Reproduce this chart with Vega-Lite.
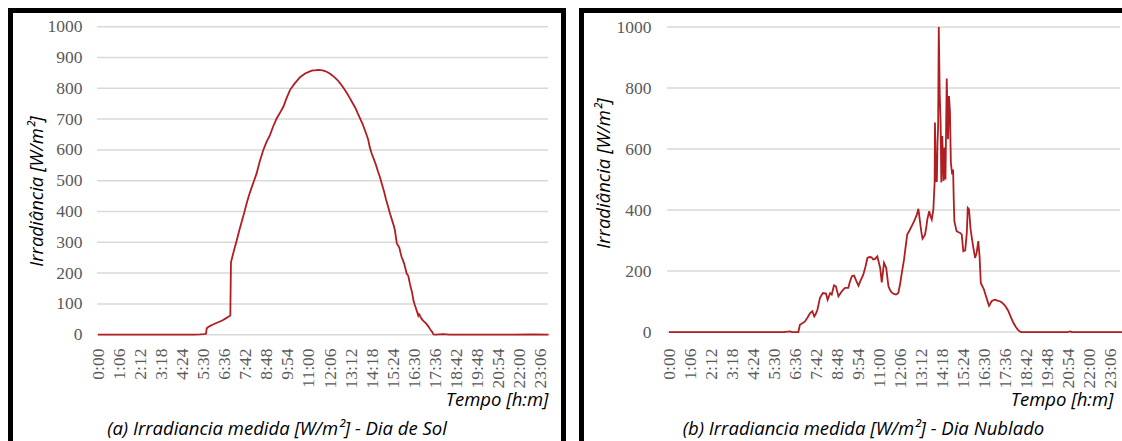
{
  "$schema": "https://vega.github.io/schema/vega-lite/v6.json",
  "background": "white",
  "padding": {"left": 8, "top": 8, "right": 0, "bottom": 0},
  "spacing": 13,
  "config": {
    "view": {"stroke": null},
    "axis": {"labelOverlap": false, "labelFlush": false, "labelBound": false},
    "title": {"font": "Open Sans", "fontStyle": "italic", "fontWeight": "normal", "fontSize": 18.5, "color": "#000000"}
  },
  "hconcat": [
    {
      "width": 558,
      "height": 433,
      "title": {"text": "(a) Irradiancia medida [W/m²] - Dia de Sol", "orient": "bottom", "frame": "group", "anchor": "middle", "dx": -10, "offset": -21},
      "layer": [
        {
          "data": {"values": [{}]},
          "mark": {"type": "rect", "filled": false, "fill": "transparent", "fillOpacity": 0, "stroke": "#000000", "strokeWidth": 10, "clip": true},
          "encoding": {
            "x": {
              "datum": -281.6, "type": "quantitative",
              "scale": {"domain": [-281.6, 1464.3], "nice": false, "zero": false},
              "axis": {
                "values": [0, 66, 132, 198, 264, 330, 396, 462, 528, 594, 660, 726, 792, 858, 924, 990, 1056, 1122, 1188, 1254, 1320, 1386],
                "tickCount": 40,
                "labelExpr": "floor(datum.value / 60) + ':' + (datum.value % 60 < 10 ? '0' : '') + (datum.value % 60)",
                "labelAngle": 270, "labelAlign": "right", "labelBaseline": "middle",
                "labelFont": "Liberation Serif", "labelFontSize": 17.5, "labelColor": "#595959",
                "labelPadding": 0, "ticks": false, "tickSize": 0, "domain": false, "grid": false,
                "labelOverlap": false, "labelFlush": false, "labelBound": false,
                "offset": -93, "zindex": 1,
                "title": "Tempo [h:m]", "titleX": 540, "titleY": 51, "titleAlign": "right", "titleBaseline": "middle",
                "titleFont": "Open Sans", "titleFontStyle": "italic", "titleFontWeight": "normal", "titleFontSize": 18.5, "titleColor": "#000000"
              }
            },
            "x2": {"datum": 1464.3},
            "y": {
              "datum": 1060.7, "type": "quantitative",
              "scale": {"domain": [-345.1, 1060.7], "nice": false, "zero": false},
              "axis": {
                "values": [0, 100, 200, 300, 400, 500, 600, 700, 800, 900, 1000],
                "tickCount": 20,
                "format": "d",
                "labelFont": "Liberation Serif", "labelFontSize": 17.5, "labelColor": "#595959",
                "labelPadding": 0, "ticks": false, "tickSize": 0, "domain": false, "grid": false,
                "labelOverlap": false, "labelFlush": false, "labelBound": false,
                "offset": -74, "zindex": 1,
                "title": "Irradiância [W/m²]", "titleX": -46, "titleY": 183, "titleAngle": 270, "titleAlign": "center", "titleBaseline": "middle",
                "titleFont": "Open Sans", "titleFontStyle": "italic", "titleFontWeight": "normal", "titleFontSize": 18.5, "titleColor": "#000000"
              }
            },
            "y2": {"datum": -700}
          }
        },
        {
          "data": {"values": [{"g": 0}, {"g": 100}, {"g": 200}, {"g": 300}, {"g": 400}, {"g": 500}, {"g": 600}, {"g": 700}, {"g": 800}, {"g": 900}, {"g": 1000}]},
          "mark": {"type": "rule", "color": "#d9d9d9", "strokeWidth": 1.5},
          "encoding": {
            "x": {"datum": -3, "type": "quantitative", "scale": {"domain": [-281.6, 1464.3], "nice": false, "zero": false}},
            "x2": {"datum": 1408},
            "y": {"field": "g", "type": "quantitative", "scale": {"domain": [-345.1, 1060.7], "nice": false, "zero": false}}
          }
        },
        {
          "data": {"values": [
            {"t": 0, "irr": 0}, {"t": 120, "irr": 0}, {"t": 240, "irr": 0}, {"t": 300, "irr": 0}, {"t": 318, "irr": 1}, {"t": 330, "irr": 2}, {"t": 338, "irr": 3},
            {"t": 340, "irr": 20}, {"t": 344, "irr": 24}, {"t": 350, "irr": 28}, {"t": 360, "irr": 33}, {"t": 370, "irr": 38}, {"t": 380, "irr": 42}, {"t": 390, "irr": 47},
            {"t": 400, "irr": 53}, {"t": 408, "irr": 58}, {"t": 414, "irr": 62}, {"t": 416, "irr": 235}, {"t": 425, "irr": 272}, {"t": 434, "irr": 306}, {"t": 442, "irr": 338},
            {"t": 450, "irr": 368}, {"t": 458, "irr": 398}, {"t": 465, "irr": 426}, {"t": 472, "irr": 451}, {"t": 480, "irr": 476}, {"t": 488, "irr": 499}, {"t": 496, "irr": 523},
            {"t": 506, "irr": 562}, {"t": 517, "irr": 599}, {"t": 527, "irr": 625}, {"t": 538, "irr": 648}, {"t": 548, "irr": 676}, {"t": 559, "irr": 702}, {"t": 570, "irr": 722},
            {"t": 580, "irr": 740}, {"t": 590, "irr": 768}, {"t": 601, "irr": 795}, {"t": 615, "irr": 815}, {"t": 632, "irr": 836}, {"t": 648, "irr": 848}, {"t": 663, "irr": 855},
            {"t": 672, "irr": 858}, {"t": 680, "irr": 858}, {"t": 688, "irr": 860}, {"t": 695, "irr": 859}, {"t": 703, "irr": 858}, {"t": 710, "irr": 856}, {"t": 718, "irr": 852},
            {"t": 726, "irr": 847}, {"t": 734, "irr": 841}, {"t": 742, "irr": 834}, {"t": 750, "irr": 826}, {"t": 757, "irr": 817}, {"t": 765, "irr": 806}, {"t": 772, "irr": 795},
            {"t": 780, "irr": 782}, {"t": 788, "irr": 768}, {"t": 796, "irr": 753}, {"t": 805, "irr": 737}, {"t": 812, "irr": 720}, {"t": 820, "irr": 702}, {"t": 828, "irr": 684},
            {"t": 835, "irr": 664}, {"t": 840, "irr": 650}, {"t": 845, "irr": 635}, {"t": 850, "irr": 610}, {"t": 856, "irr": 589}, {"t": 863, "irr": 570}, {"t": 870, "irr": 550},
            {"t": 876, "irr": 530}, {"t": 882, "irr": 512}, {"t": 888, "irr": 490}, {"t": 895, "irr": 465}, {"t": 901, "irr": 440}, {"t": 908, "irr": 415}, {"t": 914, "irr": 392},
            {"t": 920, "irr": 372}, {"t": 925, "irr": 355}, {"t": 929, "irr": 339}, {"t": 932, "irr": 318}, {"t": 935, "irr": 296}, {"t": 939, "irr": 290}, {"t": 943, "irr": 282},
            {"t": 946, "irr": 268}, {"t": 950, "irr": 252}, {"t": 954, "irr": 242}, {"t": 958, "irr": 230}, {"t": 962, "irr": 214}, {"t": 966, "irr": 198}, {"t": 969, "irr": 194},
            {"t": 971, "irr": 190}, {"t": 974, "irr": 175}, {"t": 976, "irr": 165}, {"t": 979, "irr": 152}, {"t": 982, "irr": 140}, {"t": 985, "irr": 124}, {"t": 987, "irr": 111},
            {"t": 991, "irr": 97}, {"t": 995, "irr": 85}, {"t": 999, "irr": 72}, {"t": 1002, "irr": 62}, {"t": 1004, "irr": 67}, {"t": 1006, "irr": 65}, {"t": 1009, "irr": 58},
            {"t": 1012, "irr": 52}, {"t": 1017, "irr": 46}, {"t": 1023, "irr": 40}, {"t": 1027, "irr": 36}, {"t": 1030, "irr": 32}, {"t": 1035, "irr": 25}, {"t": 1039, "irr": 18},
            {"t": 1042, "irr": 13}, {"t": 1045, "irr": 10}, {"t": 1048, "irr": 4}, {"t": 1050, "irr": 1}, {"t": 1056, "irr": 0}, {"t": 1080, "irr": 2}, {"t": 1100, "irr": 0},
            {"t": 1200, "irr": 0}, {"t": 1300, "irr": 0}, {"t": 1360, "irr": 1}, {"t": 1410, "irr": 0}
          ]},
          "mark": {"type": "line", "color": "#b01e22", "strokeWidth": 1.8, "clip": true},
          "encoding": {
            "x": {"field": "t", "type": "quantitative", "scale": {"domain": [-281.6, 1464.3], "nice": false, "zero": false}},
            "y": {"field": "irr", "type": "quantitative", "scale": {"domain": [-345.1, 1060.7], "nice": false, "zero": false}}
          }
        }
      ]
    },
    {
      "width": 543,
      "height": 433,
      "title": {"text": "(b) Irradiancia medida [W/m²] - Dia Nublado", "orient": "bottom", "frame": "group", "anchor": "middle", "dx": 13, "offset": -21},
      "layer": [
        {
          "data": {"values": [{}]},
          "mark": {"type": "rect", "filled": false, "fill": "transparent", "fillOpacity": 0, "stroke": "#000000", "strokeWidth": 10, "clip": true},
          "encoding": {
            "x": {
              "datum": -282.6, "type": "quantitative",
              "scale": {"domain": [-282.6, 1422.3], "nice": false, "zero": false},
              "axis": {
                "values": [0, 66, 132, 198, 264, 330, 396, 462, 528, 594, 660, 726, 792, 858, 924, 990, 1056, 1122, 1188, 1254, 1320, 1386],
                "tickCount": 40,
                "labelExpr": "floor(datum.value / 60) + ':' + (datum.value % 60 < 10 ? '0' : '') + (datum.value % 60)",
                "labelAngle": 270, "labelAlign": "right", "labelBaseline": "middle",
                "labelFont": "Liberation Serif", "labelFontSize": 17.5, "labelColor": "#595959",
                "labelPadding": 0, "ticks": false, "tickSize": 0, "domain": false, "grid": false,
                "labelOverlap": false, "labelFlush": false, "labelBound": false,
                "offset": -93, "zindex": 1,
                "title": "Tempo [h:m]", "titleX": 534, "titleY": 51, "titleAlign": "right", "titleBaseline": "middle",
                "titleFont": "Open Sans", "titleFontStyle": "italic", "titleFontWeight": "normal", "titleFontSize": 18.5, "titleColor": "#000000"
              }
            },
            "x2": {"datum": 1700},
            "y": {
              "datum": 1062.4, "type": "quantitative",
              "scale": {"domain": [-357.2, 1062.4], "nice": false, "zero": false},
              "axis": {
                "values": [0, 200, 400, 600, 800, 1000],
                "tickCount": 20,
                "format": "d",
                "labelFont": "Liberation Serif", "labelFontSize": 17.5, "labelColor": "#595959",
                "labelPadding": 0, "ticks": false, "tickSize": 0, "domain": false, "grid": false,
                "labelOverlap": false, "labelFlush": false, "labelBound": false,
                "offset": -72, "zindex": 1,
                "title": "Irradiância [W/m²]", "titleX": -48, "titleY": 165, "titleAngle": 270, "titleAlign": "center", "titleBaseline": "middle",
                "titleFont": "Open Sans", "titleFontStyle": "italic", "titleFontWeight": "normal", "titleFontSize": 18.5, "titleColor": "#000000"
              }
            },
            "y2": {"datum": -700}
          }
        },
        {
          "data": {"values": [{"g": 0}, {"g": 200}, {"g": 400}, {"g": 600}, {"g": 800}, {"g": 1000}]},
          "mark": {"type": "rule", "color": "#d9d9d9", "strokeWidth": 1.5},
          "encoding": {
            "x": {"datum": -6, "type": "quantitative", "scale": {"domain": [-282.6, 1422.3], "nice": false, "zero": false}},
            "x2": {"datum": 1416},
            "y": {"field": "g", "type": "quantitative", "scale": {"domain": [-357.2, 1062.4], "nice": false, "zero": false}}
          }
        },
        {
          "data": {"values": [
            {"t": 0, "irr": 0}, {"t": 120, "irr": 0}, {"t": 240, "irr": 0}, {"t": 360, "irr": 0}, {"t": 380, "irr": 2}, {"t": 386, "irr": 0}, {"t": 406, "irr": 0},
            {"t": 411, "irr": 24}, {"t": 420, "irr": 30}, {"t": 427, "irr": 35}, {"t": 435, "irr": 48}, {"t": 443, "irr": 62}, {"t": 450, "irr": 68}, {"t": 456, "irr": 51},
            {"t": 461, "irr": 60}, {"t": 466, "irr": 73}, {"t": 474, "irr": 112}, {"t": 483, "irr": 128}, {"t": 493, "irr": 126}, {"t": 498, "irr": 106}, {"t": 506, "irr": 128},
            {"t": 511, "irr": 123}, {"t": 518, "irr": 153}, {"t": 524, "irr": 150}, {"t": 532, "irr": 117}, {"t": 537, "irr": 125}, {"t": 542, "irr": 133}, {"t": 548, "irr": 140},
            {"t": 553, "irr": 145}, {"t": 563, "irr": 145}, {"t": 568, "irr": 165}, {"t": 574, "irr": 183}, {"t": 581, "irr": 185}, {"t": 588, "irr": 168}, {"t": 595, "irr": 152},
            {"t": 602, "irr": 170}, {"t": 610, "irr": 188}, {"t": 617, "irr": 215}, {"t": 623, "irr": 243}, {"t": 629, "irr": 246}, {"t": 636, "irr": 245}, {"t": 641, "irr": 238},
            {"t": 647, "irr": 240}, {"t": 654, "irr": 248}, {"t": 663, "irr": 210}, {"t": 668, "irr": 163}, {"t": 675, "irr": 227}, {"t": 679, "irr": 218}, {"t": 682, "irr": 210},
            {"t": 689, "irr": 150}, {"t": 694, "irr": 138}, {"t": 699, "irr": 130}, {"t": 706, "irr": 125}, {"t": 713, "irr": 123}, {"t": 720, "irr": 128}, {"t": 726, "irr": 160},
            {"t": 731, "irr": 194}, {"t": 738, "irr": 238}, {"t": 743, "irr": 280}, {"t": 748, "irr": 320}, {"t": 755, "irr": 333}, {"t": 762, "irr": 347}, {"t": 767, "irr": 358},
            {"t": 772, "irr": 369}, {"t": 778, "irr": 385}, {"t": 783, "irr": 404}, {"t": 788, "irr": 363}, {"t": 792, "irr": 330}, {"t": 796, "irr": 306}, {"t": 800, "irr": 312},
            {"t": 804, "irr": 320}, {"t": 808, "irr": 345}, {"t": 811, "irr": 369}, {"t": 817, "irr": 396}, {"t": 821, "irr": 380}, {"t": 825, "irr": 369}, {"t": 830, "irr": 402},
            {"t": 834, "irr": 490}, {"t": 835, "irr": 687}, {"t": 837, "irr": 560}, {"t": 839, "irr": 495}, {"t": 841, "irr": 495}, {"t": 843, "irr": 621}, {"t": 845, "irr": 676},
            {"t": 847, "irr": 1000}, {"t": 850, "irr": 780}, {"t": 853, "irr": 676}, {"t": 855, "irr": 490}, {"t": 858, "irr": 643}, {"t": 862, "irr": 495}, {"t": 865, "irr": 605},
            {"t": 868, "irr": 500}, {"t": 872, "irr": 831}, {"t": 876, "irr": 632}, {"t": 879, "irr": 774}, {"t": 882, "irr": 725}, {"t": 885, "irr": 555}, {"t": 889, "irr": 517},
            {"t": 892, "irr": 533}, {"t": 894, "irr": 435}, {"t": 896, "irr": 363}, {"t": 903, "irr": 331}, {"t": 909, "irr": 327}, {"t": 914, "irr": 325}, {"t": 919, "irr": 320},
            {"t": 924, "irr": 265}, {"t": 930, "irr": 268}, {"t": 935, "irr": 325}, {"t": 938, "irr": 407}, {"t": 942, "irr": 402}, {"t": 947, "irr": 336}, {"t": 954, "irr": 287},
            {"t": 961, "irr": 243}, {"t": 966, "irr": 260}, {"t": 971, "irr": 298}, {"t": 975, "irr": 250}, {"t": 979, "irr": 161}, {"t": 984, "irr": 150}, {"t": 989, "irr": 139},
            {"t": 993, "irr": 125}, {"t": 997, "irr": 112}, {"t": 1001, "irr": 98}, {"t": 1005, "irr": 86}, {"t": 1009, "irr": 93}, {"t": 1013, "irr": 101}, {"t": 1018, "irr": 104},
            {"t": 1024, "irr": 106}, {"t": 1031, "irr": 103}, {"t": 1039, "irr": 101}, {"t": 1045, "irr": 97}, {"t": 1052, "irr": 90}, {"t": 1058, "irr": 82}, {"t": 1065, "irr": 70},
            {"t": 1072, "irr": 52}, {"t": 1080, "irr": 33}, {"t": 1088, "irr": 18}, {"t": 1095, "irr": 8}, {"t": 1102, "irr": 2}, {"t": 1106, "irr": 0}, {"t": 1150, "irr": 0},
            {"t": 1250, "irr": 0}, {"t": 1260, "irr": 2}, {"t": 1265, "irr": 0}, {"t": 1350, "irr": 0}, {"t": 1430, "irr": 0}
          ]},
          "mark": {"type": "line", "color": "#b01e22", "strokeWidth": 1.8, "clip": true},
          "encoding": {
            "x": {"field": "t", "type": "quantitative", "scale": {"domain": [-282.6, 1422.3], "nice": false, "zero": false}},
            "y": {"field": "irr", "type": "quantitative", "scale": {"domain": [-357.2, 1062.4], "nice": false, "zero": false}}
          }
        }
      ]
    }
  ]
}
